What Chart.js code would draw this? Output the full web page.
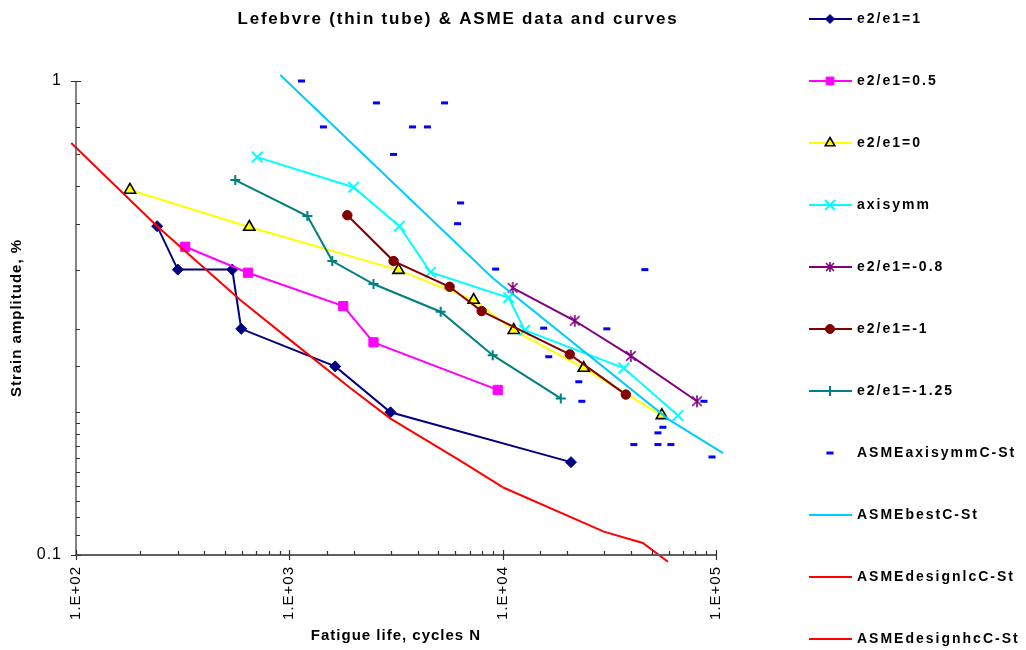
<!DOCTYPE html>
<html><head><meta charset="utf-8">
<script src="https://cdn.jsdelivr.net/npm/chart.js@4.4.1/dist/chart.umd.min.js"></script>
<style>html,body{margin:0;padding:0;background:#fff;overflow:hidden}#wrap{width:1026px;height:650px;position:relative}</style>
</head><body><div id="wrap"><canvas id="c" width="1026" height="650"></canvas></div>
<script>
// ---- text ----
const titleText = 'Lefebvre (thin tube) & ASME data and curves';
const xTitle = 'Fatigue life, cycles N';
const yTitle = 'Strain amplitude, %';
const seriesNames = ['e2/e1=1','e2/e1=0.5','e2/e1=0','axisymm','e2/e1=-0.8','e2/e1=-1','e2/e1=-1.25',
  'ASMEaxisymmC-St','ASMEbestC-St','ASMEdesignlcC-St','ASMEdesignhcC-St'];
const xTickLabels = ['1.E+02','1.E+03','1.E+04','1.E+05'];
const yTickLabels = ['0.1','1'];

// ---- data (cycles N, strain amplitude %) ----
const e1N = [240, 300, 540, 595, 1640, 2980, 20900];
const e1S = [0.494, 0.40, 0.40, 0.30, 0.25, 0.20, 0.157];
const e05N = [325, 640, 1790, 2480, 9480];
const e05S = [0.447, 0.394, 0.335, 0.281, 0.223];
const e0N = [179, 649, 3250, 7310, 11270, 23990, 55750];
const e0S = [0.589, 0.492, 0.399, 0.345, 0.298, 0.248, 0.197];
const axN = [707, 2000, 3280, 4590, 10670, 12680, 36980, 66330];
const axS = [0.691, 0.597, 0.494, 0.395, 0.349, 0.298, 0.248, 0.197];
const em08N = [11140, 21780, 39890, 81440];
const em08S = [0.366, 0.312, 0.263, 0.211];
const em1N = [1870, 3080, 5640, 7970, 20640, 37780];
const em1S = [0.521, 0.417, 0.368, 0.327, 0.265, 0.218];
const em125N = [558, 1215, 1590, 2480, 5120, 8980, 18720];
const em125S = [0.618, 0.519, 0.417, 0.373, 0.326, 0.264, 0.214];
const asmeAxN = [1140, 2560, 5340, 1445, 3780, 4440, 3080, 6350, 6150, 9270, 46400, 15570, 30780,
  16440, 22740, 23500, 87800, 56370, 53430, 41210, 53430, 61450, 95800];
const asmeAxS = [1.0, 0.899, 0.899, 0.80, 0.80, 0.80, 0.70, 0.553, 0.50, 0.401, 0.40, 0.301, 0.30,
  0.262, 0.232, 0.211, 0.211, 0.186, 0.181, 0.171, 0.171, 0.171, 0.161];
const bestN = [907, 8976, 60140, 107900];
const bestS = [1.03, 0.384, 0.193, 0.164];
const lcN = [95, 240, 589, 1000, 1930, 2980, 6210, 10000];
const lcS = [0.74, 0.494, 0.345, 0.285, 0.225, 0.194, 0.159, 0.139];
const hcN = [10000, 29800, 45400, 59500];
const hcS = [0.139, 0.112, 0.106, 0.0968];

const pts = (xs, ys) => xs.map((x, i) => ({x, y: ys[i]}));
const FONT = "'Liberation Sans', Arial, sans-serif";
Chart.defaults.font.family = FONT;
Chart.defaults.color = '#000';

function starCanvas(r, color) {
  const s = Math.ceil(r * 2 + 4), c = document.createElement('canvas');
  c.width = s; c.height = s;
  const g = c.getContext('2d'), m = s / 2, d = r * 0.8;
  g.strokeStyle = color; g.lineWidth = 1.6;
  g.beginPath();
  g.moveTo(m - d, m - d); g.lineTo(m + d, m + d);
  g.moveTo(m + d, m - d); g.lineTo(m - d, m + d);
  g.moveTo(m, m - r); g.lineTo(m, m + r);
  g.stroke();
  return c;
}
const starBig = starCanvas(6, '#800080');
const starSmall = starCanvas(5, '#800080');

function mk(i, xs, ys, o) {
  return Object.assign({
    label: seriesNames[i], data: pts(xs, ys), showLine: true, borderWidth: 2,
    order: -i, pointBorderWidth: 1, pointHoverRadius: 0
  }, o);
}
const datasets = [
  mk(0, e1N, e1S, {borderColor: '#000080', pointStyle: 'rectRot', pointRadius: 5.5, pointBackgroundColor: '#000080', pointBorderColor: '#000080', legendR: 4.5}),
  mk(1, e05N, e05S, {borderColor: '#FF00FF', pointStyle: 'rect', pointRadius: 6.5, pointBackgroundColor: '#FF00FF', pointBorderColor: '#FF00FF', legendR: 5.5}),
  mk(2, e0N, e0S, {borderColor: '#FFFF00', pointStyle: 'triangle', pointRadius: 6.5, pointBackgroundColor: '#FFFF00', pointBorderColor: '#000', pointBorderWidth: 1.6, legendR: 5.5}),
  mk(3, axN, axS, {borderColor: '#00FFFF', pointStyle: 'crossRot', pointRadius: 7.5, pointBackgroundColor: '#00FFFF', pointBorderColor: '#00FFFF', pointBorderWidth: 2, legendR: 7}),
  mk(4, em08N, em08S, {borderColor: '#800080', pointStyle: starBig, pointRadius: 6, pointBackgroundColor: '#800080', pointBorderColor: '#800080', legendStyle: starSmall, legendR: 5}),
  mk(5, em1N, em1S, {borderColor: '#800000', pointStyle: 'circle', pointRadius: 4.7, pointBackgroundColor: '#800000', pointBorderColor: '#800000', legendR: 4.5}),
  mk(6, em125N, em125S, {borderColor: '#008080', pointStyle: 'cross', pointRadius: 5, pointBackgroundColor: '#008080', pointBorderColor: '#008080', pointBorderWidth: 2, legendR: 5}),
  mk(7, asmeAxN, asmeAxS, {showLine: false, borderColor: '#0000FF', pointStyle: 'line', pointRadius: 3.5, pointBackgroundColor: '#0000FF', pointBorderColor: '#0000FF', pointBorderWidth: 3, clip: 6, legendR: 3.5}),
  mk(8, bestN, bestS, {borderColor: '#00CCFF', pointRadius: 0, clip: 8}),
  mk(9, lcN, lcS, {borderColor: '#FF0000', pointRadius: 0, clip: 10}),
  mk(10, hcN, hcS, {borderColor: '#FF0000', pointRadius: 0, clip: 10})
];

const isPow = v => Math.abs(Math.log10(v) - Math.round(Math.log10(v))) < 1e-6;

const deco = {
  id: 'deco',
  beforeDraw(chart) { chart.ctx.letterSpacing = '1px'; },
  afterDraw(chart) {
    const {ctx, chartArea: a} = chart;
    const xs = chart.scales.x, ys = chart.scales.y;
    ctx.save();
    ctx.letterSpacing = '0px';
    // axes lines
    ctx.strokeStyle = '#404040'; ctx.lineWidth = 1.3;
    ctx.beginPath(); ctx.moveTo(a.left, a.top); ctx.lineTo(a.left, a.bottom); ctx.stroke();
    ctx.strokeStyle = '#606060'; ctx.lineWidth = 2;
    ctx.beginPath(); ctx.moveTo(a.left, a.bottom); ctx.lineTo(a.right, a.bottom); ctx.stroke();
    // tick marks
    ctx.strokeStyle = '#303030'; ctx.lineWidth = 1.2;
    ctx.beginPath();
    xs.ticks.forEach(t => {
      const px = Math.round(xs.getPixelForValue(t.value)) + 0.5;
      if (isPow(t.value)) { ctx.moveTo(px, a.bottom - 5); ctx.lineTo(px, a.bottom + 5); }
      else { ctx.moveTo(px, a.bottom - 4); ctx.lineTo(px, a.bottom); }
    });
    ys.ticks.forEach(t => {
      const py = Math.round(ys.getPixelForValue(t.value)) + 0.5;
      if (isPow(t.value)) { ctx.moveTo(a.left - 5, py); ctx.lineTo(a.left + 5, py); }
      else { ctx.moveTo(a.left, py); ctx.lineTo(a.left + 4, py); }
    });
    ctx.stroke();
    // title
    ctx.fillStyle = '#000';
    ctx.letterSpacing = '1.8px';
    ctx.font = 'bold 17px ' + FONT;
    ctx.textAlign = 'center'; ctx.textBaseline = 'middle';
    ctx.fillText(titleText, 458, 19);
    // legend
    ctx.font = 'bold 14px ' + FONT;
    ctx.textAlign = 'left';
    chart.data.datasets.forEach((ds, i) => {
      const yy = 19 + 62 * i;
      ctx.letterSpacing = '0px';
      if (ds.showLine) {
        ctx.strokeStyle = ds.borderColor; ctx.lineWidth = 2;
        ctx.beginPath(); ctx.moveTo(809, yy); ctx.lineTo(852, yy); ctx.stroke();
      }
      if (ds.pointRadius > 0) {
        ctx.fillStyle = ds.pointBackgroundColor; ctx.strokeStyle = ds.pointBorderColor;
        ctx.lineWidth = ds.pointBorderWidth;
        Chart.helpers.drawPoint(ctx, {pointStyle: ds.legendStyle || ds.pointStyle, radius: ds.legendR,
          borderWidth: ds.pointBorderWidth, rotation: 0}, 830, yy);
      }
      ctx.fillStyle = '#000';
      ctx.letterSpacing = '2px';
      ctx.fillText(ds.label, 857, yy);
    });
    ctx.restore();
  }
};

new Chart(document.getElementById('c'), {
  type: 'scatter',
  data: {datasets},
  plugins: [deco],
  options: {
    responsive: false, animation: false, devicePixelRatio: 1,
    layout: {padding: {left: 0, right: 310, top: 81, bottom: 0}},
    plugins: {legend: {display: false}, title: {display: false}, tooltip: {enabled: false}},
    events: [],
    scales: {
      x: {
        type: 'logarithmic', min: 100, max: 100000,
        grid: {display: false, drawTicks: false}, border: {display: false},
        afterFit: s => { s.height = 95; },
        ticks: {autoSkip: false, maxRotation: 90, minRotation: 90, padding: 11,
          font: {size: 15}, color: '#000',
          callback: v => isPow(v) ? xTickLabels[Math.round(Math.log10(v)) - 2] : ''},
        title: {display: true, text: xTitle, font: {size: 15, weight: 'bold'}, padding: {top: 0, bottom: 5}}
      },
      y: {
        type: 'logarithmic', min: 0.1, max: 1,
        grid: {display: false, drawTicks: false}, border: {display: false},
        afterFit: s => { s.width = 76; },
        ticks: {autoSkip: false, padding: 14, font: {size: 16}, color: '#000',
          callback: v => isPow(v) ? yTickLabels[Math.round(Math.log10(v)) + 1] : ''},
        title: {display: true, text: yTitle, font: {size: 15, weight: 'bold'}, padding: {top: 8, bottom: 0}}
      }
    }
  }
});
</script></body></html>
